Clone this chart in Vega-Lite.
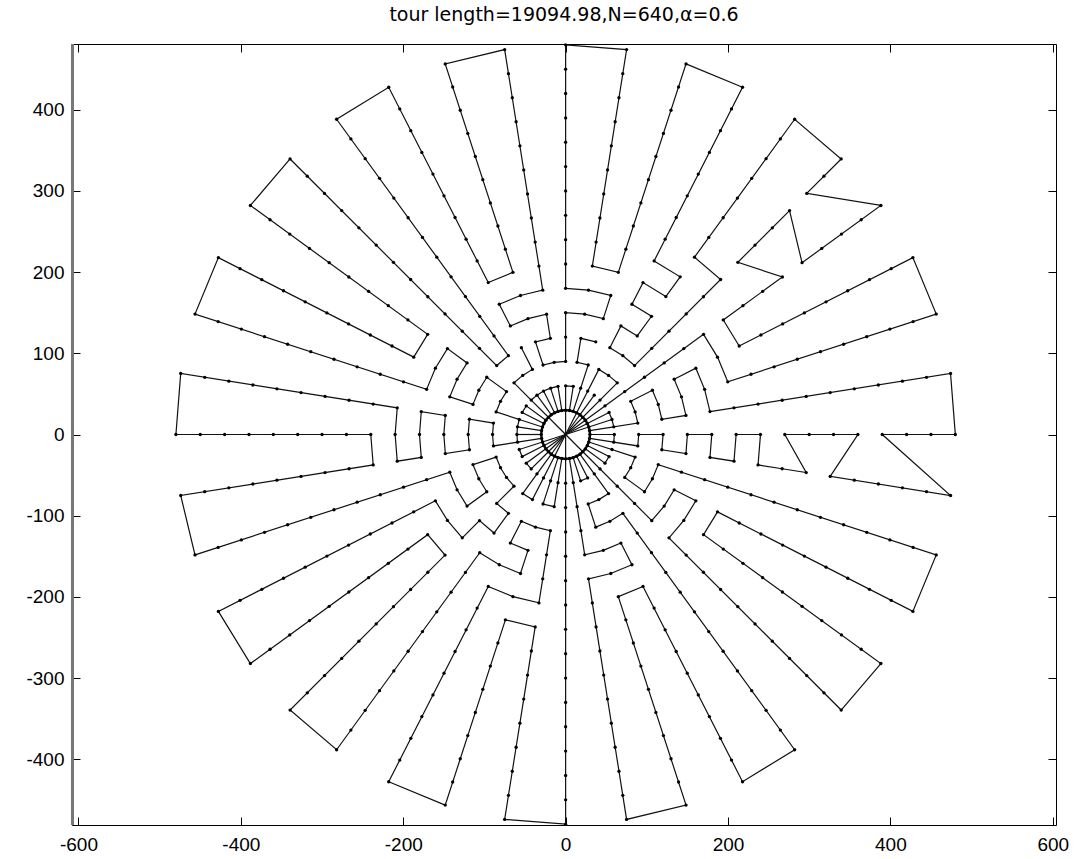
{
"$schema":"https://vega.github.io/schema/vega-lite/v6.json",
"width":984,"height":781,
"autosize":{"type":"none"},
"padding":{"left":72,"top":44,"right":19,"bottom":34},
"config":{"view":{"stroke":"black","strokeWidth":1},"font":"Liberation Sans"},
"title":{"text":"tour length=19094.98,N=640,α=0.6","fontSize":19,"fontWeight":"normal","font":"DejaVu Sans","color":"black","offset":17},
"datasets":{
"pts":[
{"id":1,"x":30,"y":0},{"id":2,"x":60,"y":0},{"id":3,"x":90,"y":0},{"id":4,"x":120,"y":0},{"id":5,"x":150,"y":0},{"id":6,"x":180,"y":0},{"id":7,"x":210,"y":0},{"id":8,"x":240,"y":0},{"id":9,"x":270,"y":0},{"id":10,"x":300,"y":0},{"id":11,"x":330,"y":0},{"id":12,"x":360,"y":0},{"id":13,"x":390,"y":0},{"id":14,"x":420,"y":0},{"id":15,"x":450,"y":0},{"id":16,"x":480,"y":0},
{"id":901,"x":29.6,"y":4.7},{"id":902,"x":59.3,"y":9.4},{"id":903,"x":88.9,"y":14.1},{"id":904,"x":118.5,"y":18.8},{"id":905,"x":148.2,"y":23.5},{"id":906,"x":177.8,"y":28.2},{"id":907,"x":207.4,"y":32.9},{"id":908,"x":237,"y":37.5},{"id":909,"x":266.7,"y":42.2},{"id":910,"x":296.3,"y":46.9},{"id":911,"x":325.9,"y":51.6},{"id":912,"x":355.6,"y":56.3},{"id":913,"x":385.2,"y":61},{"id":914,"x":414.8,"y":65.7},{"id":915,"x":444.5,"y":70.4},{"id":916,"x":474.1,"y":75.1},
{"id":1801,"x":28.5,"y":9.3},{"id":1802,"x":57.1,"y":18.5},{"id":1803,"x":85.6,"y":27.8},{"id":1804,"x":114.1,"y":37.1},{"id":1805,"x":142.7,"y":46.4},{"id":1806,"x":171.2,"y":55.6},{"id":1807,"x":199.7,"y":64.9},{"id":1808,"x":228.3,"y":74.2},{"id":1809,"x":256.8,"y":83.4},{"id":1810,"x":285.3,"y":92.7},{"id":1811,"x":313.9,"y":102},{"id":1812,"x":342.4,"y":111.2},{"id":1813,"x":370.9,"y":120.5},{"id":1814,"x":399.4,"y":129.8},{"id":1815,"x":428,"y":139.1},{"id":1816,"x":456.5,"y":148.3},
{"id":2701,"x":26.7,"y":13.6},{"id":2702,"x":53.5,"y":27.2},{"id":2703,"x":80.2,"y":40.9},{"id":2704,"x":106.9,"y":54.5},{"id":2705,"x":133.7,"y":68.1},{"id":2706,"x":160.4,"y":81.7},{"id":2707,"x":187.1,"y":95.3},{"id":2708,"x":213.8,"y":109},{"id":2709,"x":240.6,"y":122.6},{"id":2710,"x":267.3,"y":136.2},{"id":2711,"x":294,"y":149.8},{"id":2712,"x":320.8,"y":163.4},{"id":2713,"x":347.5,"y":177.1},{"id":2714,"x":374.2,"y":190.7},{"id":2715,"x":401,"y":204.3},{"id":2716,"x":427.7,"y":217.9},
{"id":3601,"x":24.3,"y":17.6},{"id":3602,"x":48.5,"y":35.3},{"id":3603,"x":72.8,"y":52.9},{"id":3604,"x":97.1,"y":70.5},{"id":3605,"x":121.4,"y":88.2},{"id":3606,"x":145.6,"y":105.8},{"id":3607,"x":169.9,"y":123.4},{"id":3608,"x":194.2,"y":141.1},{"id":3609,"x":218.4,"y":158.7},{"id":3610,"x":242.7,"y":176.3},{"id":3611,"x":267,"y":194},{"id":3612,"x":291.2,"y":211.6},{"id":3613,"x":315.5,"y":229.2},{"id":3614,"x":339.8,"y":246.9},{"id":3615,"x":364.1,"y":264.5},{"id":3616,"x":388.3,"y":282.1},
{"id":4501,"x":21.2,"y":21.2},{"id":4502,"x":42.4,"y":42.4},{"id":4503,"x":63.6,"y":63.6},{"id":4504,"x":84.9,"y":84.9},{"id":4505,"x":106.1,"y":106.1},{"id":4506,"x":127.3,"y":127.3},{"id":4507,"x":148.5,"y":148.5},{"id":4508,"x":169.7,"y":169.7},{"id":4509,"x":190.9,"y":190.9},{"id":4510,"x":212.1,"y":212.1},{"id":4511,"x":233.3,"y":233.3},{"id":4512,"x":254.6,"y":254.6},{"id":4513,"x":275.8,"y":275.8},{"id":4514,"x":297,"y":297},{"id":4515,"x":318.2,"y":318.2},{"id":4516,"x":339.4,"y":339.4},
{"id":5401,"x":17.6,"y":24.3},{"id":5402,"x":35.3,"y":48.5},{"id":5403,"x":52.9,"y":72.8},{"id":5404,"x":70.5,"y":97.1},{"id":5405,"x":88.2,"y":121.4},{"id":5406,"x":105.8,"y":145.6},{"id":5407,"x":123.4,"y":169.9},{"id":5408,"x":141.1,"y":194.2},{"id":5409,"x":158.7,"y":218.4},{"id":5410,"x":176.3,"y":242.7},{"id":5411,"x":194,"y":267},{"id":5412,"x":211.6,"y":291.2},{"id":5413,"x":229.2,"y":315.5},{"id":5414,"x":246.9,"y":339.8},{"id":5415,"x":264.5,"y":364.1},{"id":5416,"x":282.1,"y":388.3},
{"id":6301,"x":13.6,"y":26.7},{"id":6302,"x":27.2,"y":53.5},{"id":6303,"x":40.9,"y":80.2},{"id":6304,"x":54.5,"y":106.9},{"id":6305,"x":68.1,"y":133.7},{"id":6306,"x":81.7,"y":160.4},{"id":6307,"x":95.3,"y":187.1},{"id":6308,"x":109,"y":213.8},{"id":6309,"x":122.6,"y":240.6},{"id":6310,"x":136.2,"y":267.3},{"id":6311,"x":149.8,"y":294},{"id":6312,"x":163.4,"y":320.8},{"id":6313,"x":177.1,"y":347.5},{"id":6314,"x":190.7,"y":374.2},{"id":6315,"x":204.3,"y":401},{"id":6316,"x":217.9,"y":427.7},
{"id":7201,"x":9.3,"y":28.5},{"id":7202,"x":18.5,"y":57.1},{"id":7203,"x":27.8,"y":85.6},{"id":7204,"x":37.1,"y":114.1},{"id":7205,"x":46.4,"y":142.7},{"id":7206,"x":55.6,"y":171.2},{"id":7207,"x":64.9,"y":199.7},{"id":7208,"x":74.2,"y":228.3},{"id":7209,"x":83.4,"y":256.8},{"id":7210,"x":92.7,"y":285.3},{"id":7211,"x":102,"y":313.9},{"id":7212,"x":111.2,"y":342.4},{"id":7213,"x":120.5,"y":370.9},{"id":7214,"x":129.8,"y":399.4},{"id":7215,"x":139.1,"y":428},{"id":7216,"x":148.3,"y":456.5},
{"id":8101,"x":4.7,"y":29.6},{"id":8102,"x":9.4,"y":59.3},{"id":8103,"x":14.1,"y":88.9},{"id":8104,"x":18.8,"y":118.5},{"id":8105,"x":23.5,"y":148.2},{"id":8106,"x":28.2,"y":177.8},{"id":8107,"x":32.9,"y":207.4},{"id":8108,"x":37.5,"y":237},{"id":8109,"x":42.2,"y":266.7},{"id":8110,"x":46.9,"y":296.3},{"id":8111,"x":51.6,"y":325.9},{"id":8112,"x":56.3,"y":355.6},{"id":8113,"x":61,"y":385.2},{"id":8114,"x":65.7,"y":414.8},{"id":8115,"x":70.4,"y":444.5},{"id":8116,"x":75.1,"y":474.1},
{"id":9001,"x":0,"y":30},{"id":9002,"x":0,"y":60},{"id":9003,"x":0,"y":90},{"id":9004,"x":0,"y":120},{"id":9005,"x":0,"y":150},{"id":9006,"x":0,"y":180},{"id":9007,"x":0,"y":210},{"id":9008,"x":0,"y":240},{"id":9009,"x":0,"y":270},{"id":9010,"x":0,"y":300},{"id":9011,"x":0,"y":330},{"id":9012,"x":0,"y":360},{"id":9013,"x":0,"y":390},{"id":9014,"x":0,"y":420},{"id":9015,"x":0,"y":450},{"id":9016,"x":0,"y":480},
{"id":9901,"x":-4.7,"y":29.6},{"id":9902,"x":-9.4,"y":59.3},{"id":9903,"x":-14.1,"y":88.9},{"id":9904,"x":-18.8,"y":118.5},{"id":9905,"x":-23.5,"y":148.2},{"id":9906,"x":-28.2,"y":177.8},{"id":9907,"x":-32.9,"y":207.4},{"id":9908,"x":-37.5,"y":237},{"id":9909,"x":-42.2,"y":266.7},{"id":9910,"x":-46.9,"y":296.3},{"id":9911,"x":-51.6,"y":325.9},{"id":9912,"x":-56.3,"y":355.6},{"id":9913,"x":-61,"y":385.2},{"id":9914,"x":-65.7,"y":414.8},{"id":9915,"x":-70.4,"y":444.5},{"id":9916,"x":-75.1,"y":474.1},
{"id":10801,"x":-9.3,"y":28.5},{"id":10802,"x":-18.5,"y":57.1},{"id":10803,"x":-27.8,"y":85.6},{"id":10804,"x":-37.1,"y":114.1},{"id":10805,"x":-46.4,"y":142.7},{"id":10806,"x":-55.6,"y":171.2},{"id":10807,"x":-64.9,"y":199.7},{"id":10808,"x":-74.2,"y":228.3},{"id":10809,"x":-83.4,"y":256.8},{"id":10810,"x":-92.7,"y":285.3},{"id":10811,"x":-102,"y":313.9},{"id":10812,"x":-111.2,"y":342.4},{"id":10813,"x":-120.5,"y":370.9},{"id":10814,"x":-129.8,"y":399.4},{"id":10815,"x":-139.1,"y":428},{"id":10816,"x":-148.3,"y":456.5},
{"id":11701,"x":-13.6,"y":26.7},{"id":11702,"x":-27.2,"y":53.5},{"id":11703,"x":-40.9,"y":80.2},{"id":11704,"x":-54.5,"y":106.9},{"id":11705,"x":-68.1,"y":133.7},{"id":11706,"x":-81.7,"y":160.4},{"id":11707,"x":-95.3,"y":187.1},{"id":11708,"x":-109,"y":213.8},{"id":11709,"x":-122.6,"y":240.6},{"id":11710,"x":-136.2,"y":267.3},{"id":11711,"x":-149.8,"y":294},{"id":11712,"x":-163.4,"y":320.8},{"id":11713,"x":-177.1,"y":347.5},{"id":11714,"x":-190.7,"y":374.2},{"id":11715,"x":-204.3,"y":401},{"id":11716,"x":-217.9,"y":427.7},
{"id":12601,"x":-17.6,"y":24.3},{"id":12602,"x":-35.3,"y":48.5},{"id":12603,"x":-52.9,"y":72.8},{"id":12604,"x":-70.5,"y":97.1},{"id":12605,"x":-88.2,"y":121.4},{"id":12606,"x":-105.8,"y":145.6},{"id":12607,"x":-123.4,"y":169.9},{"id":12608,"x":-141.1,"y":194.2},{"id":12609,"x":-158.7,"y":218.4},{"id":12610,"x":-176.3,"y":242.7},{"id":12611,"x":-194,"y":267},{"id":12612,"x":-211.6,"y":291.2},{"id":12613,"x":-229.2,"y":315.5},{"id":12614,"x":-246.9,"y":339.8},{"id":12615,"x":-264.5,"y":364.1},{"id":12616,"x":-282.1,"y":388.3},
{"id":13501,"x":-21.2,"y":21.2},{"id":13502,"x":-42.4,"y":42.4},{"id":13503,"x":-63.6,"y":63.6},{"id":13504,"x":-84.9,"y":84.9},{"id":13505,"x":-106.1,"y":106.1},{"id":13506,"x":-127.3,"y":127.3},{"id":13507,"x":-148.5,"y":148.5},{"id":13508,"x":-169.7,"y":169.7},{"id":13509,"x":-190.9,"y":190.9},{"id":13510,"x":-212.1,"y":212.1},{"id":13511,"x":-233.3,"y":233.3},{"id":13512,"x":-254.6,"y":254.6},{"id":13513,"x":-275.8,"y":275.8},{"id":13514,"x":-297,"y":297},{"id":13515,"x":-318.2,"y":318.2},{"id":13516,"x":-339.4,"y":339.4},
{"id":14401,"x":-24.3,"y":17.6},{"id":14402,"x":-48.5,"y":35.3},{"id":14403,"x":-72.8,"y":52.9},{"id":14404,"x":-97.1,"y":70.5},{"id":14405,"x":-121.4,"y":88.2},{"id":14406,"x":-145.6,"y":105.8},{"id":14407,"x":-169.9,"y":123.4},{"id":14408,"x":-194.2,"y":141.1},{"id":14409,"x":-218.4,"y":158.7},{"id":14410,"x":-242.7,"y":176.3},{"id":14411,"x":-267,"y":194},{"id":14412,"x":-291.2,"y":211.6},{"id":14413,"x":-315.5,"y":229.2},{"id":14414,"x":-339.8,"y":246.9},{"id":14415,"x":-364.1,"y":264.5},{"id":14416,"x":-388.3,"y":282.1},
{"id":15301,"x":-26.7,"y":13.6},{"id":15302,"x":-53.5,"y":27.2},{"id":15303,"x":-80.2,"y":40.9},{"id":15304,"x":-106.9,"y":54.5},{"id":15305,"x":-133.7,"y":68.1},{"id":15306,"x":-160.4,"y":81.7},{"id":15307,"x":-187.1,"y":95.3},{"id":15308,"x":-213.8,"y":109},{"id":15309,"x":-240.6,"y":122.6},{"id":15310,"x":-267.3,"y":136.2},{"id":15311,"x":-294,"y":149.8},{"id":15312,"x":-320.8,"y":163.4},{"id":15313,"x":-347.5,"y":177.1},{"id":15314,"x":-374.2,"y":190.7},{"id":15315,"x":-401,"y":204.3},{"id":15316,"x":-427.7,"y":217.9},
{"id":16201,"x":-28.5,"y":9.3},{"id":16202,"x":-57.1,"y":18.5},{"id":16203,"x":-85.6,"y":27.8},{"id":16204,"x":-114.1,"y":37.1},{"id":16205,"x":-142.7,"y":46.4},{"id":16206,"x":-171.2,"y":55.6},{"id":16207,"x":-199.7,"y":64.9},{"id":16208,"x":-228.3,"y":74.2},{"id":16209,"x":-256.8,"y":83.4},{"id":16210,"x":-285.3,"y":92.7},{"id":16211,"x":-313.9,"y":102},{"id":16212,"x":-342.4,"y":111.2},{"id":16213,"x":-370.9,"y":120.5},{"id":16214,"x":-399.4,"y":129.8},{"id":16215,"x":-428,"y":139.1},{"id":16216,"x":-456.5,"y":148.3},
{"id":17101,"x":-29.6,"y":4.7},{"id":17102,"x":-59.3,"y":9.4},{"id":17103,"x":-88.9,"y":14.1},{"id":17104,"x":-118.5,"y":18.8},{"id":17105,"x":-148.2,"y":23.5},{"id":17106,"x":-177.8,"y":28.2},{"id":17107,"x":-207.4,"y":32.9},{"id":17108,"x":-237,"y":37.5},{"id":17109,"x":-266.7,"y":42.2},{"id":17110,"x":-296.3,"y":46.9},{"id":17111,"x":-325.9,"y":51.6},{"id":17112,"x":-355.6,"y":56.3},{"id":17113,"x":-385.2,"y":61},{"id":17114,"x":-414.8,"y":65.7},{"id":17115,"x":-444.5,"y":70.4},{"id":17116,"x":-474.1,"y":75.1},
{"id":18001,"x":-30,"y":0},{"id":18002,"x":-60,"y":0},{"id":18003,"x":-90,"y":0},{"id":18004,"x":-120,"y":0},{"id":18005,"x":-150,"y":0},{"id":18006,"x":-180,"y":0},{"id":18007,"x":-210,"y":0},{"id":18008,"x":-240,"y":0},{"id":18009,"x":-270,"y":0},{"id":18010,"x":-300,"y":0},{"id":18011,"x":-330,"y":0},{"id":18012,"x":-360,"y":0},{"id":18013,"x":-390,"y":0},{"id":18014,"x":-420,"y":0},{"id":18015,"x":-450,"y":0},{"id":18016,"x":-480,"y":0},
{"id":18901,"x":-29.6,"y":-4.7},{"id":18902,"x":-59.3,"y":-9.4},{"id":18903,"x":-88.9,"y":-14.1},{"id":18904,"x":-118.5,"y":-18.8},{"id":18905,"x":-148.2,"y":-23.5},{"id":18906,"x":-177.8,"y":-28.2},{"id":18907,"x":-207.4,"y":-32.9},{"id":18908,"x":-237,"y":-37.5},{"id":18909,"x":-266.7,"y":-42.2},{"id":18910,"x":-296.3,"y":-46.9},{"id":18911,"x":-325.9,"y":-51.6},{"id":18912,"x":-355.6,"y":-56.3},{"id":18913,"x":-385.2,"y":-61},{"id":18914,"x":-414.8,"y":-65.7},{"id":18915,"x":-444.5,"y":-70.4},{"id":18916,"x":-474.1,"y":-75.1},
{"id":19801,"x":-28.5,"y":-9.3},{"id":19802,"x":-57.1,"y":-18.5},{"id":19803,"x":-85.6,"y":-27.8},{"id":19804,"x":-114.1,"y":-37.1},{"id":19805,"x":-142.7,"y":-46.4},{"id":19806,"x":-171.2,"y":-55.6},{"id":19807,"x":-199.7,"y":-64.9},{"id":19808,"x":-228.3,"y":-74.2},{"id":19809,"x":-256.8,"y":-83.4},{"id":19810,"x":-285.3,"y":-92.7},{"id":19811,"x":-313.9,"y":-102},{"id":19812,"x":-342.4,"y":-111.2},{"id":19813,"x":-370.9,"y":-120.5},{"id":19814,"x":-399.4,"y":-129.8},{"id":19815,"x":-428,"y":-139.1},{"id":19816,"x":-456.5,"y":-148.3},
{"id":20701,"x":-26.7,"y":-13.6},{"id":20702,"x":-53.5,"y":-27.2},{"id":20703,"x":-80.2,"y":-40.9},{"id":20704,"x":-106.9,"y":-54.5},{"id":20705,"x":-133.7,"y":-68.1},{"id":20706,"x":-160.4,"y":-81.7},{"id":20707,"x":-187.1,"y":-95.3},{"id":20708,"x":-213.8,"y":-109},{"id":20709,"x":-240.6,"y":-122.6},{"id":20710,"x":-267.3,"y":-136.2},{"id":20711,"x":-294,"y":-149.8},{"id":20712,"x":-320.8,"y":-163.4},{"id":20713,"x":-347.5,"y":-177.1},{"id":20714,"x":-374.2,"y":-190.7},{"id":20715,"x":-401,"y":-204.3},{"id":20716,"x":-427.7,"y":-217.9},
{"id":21601,"x":-24.3,"y":-17.6},{"id":21602,"x":-48.5,"y":-35.3},{"id":21603,"x":-72.8,"y":-52.9},{"id":21604,"x":-97.1,"y":-70.5},{"id":21605,"x":-121.4,"y":-88.2},{"id":21606,"x":-145.6,"y":-105.8},{"id":21607,"x":-169.9,"y":-123.4},{"id":21608,"x":-194.2,"y":-141.1},{"id":21609,"x":-218.4,"y":-158.7},{"id":21610,"x":-242.7,"y":-176.3},{"id":21611,"x":-267,"y":-194},{"id":21612,"x":-291.2,"y":-211.6},{"id":21613,"x":-315.5,"y":-229.2},{"id":21614,"x":-339.8,"y":-246.9},{"id":21615,"x":-364.1,"y":-264.5},{"id":21616,"x":-388.3,"y":-282.1},
{"id":22501,"x":-21.2,"y":-21.2},{"id":22502,"x":-42.4,"y":-42.4},{"id":22503,"x":-63.6,"y":-63.6},{"id":22504,"x":-84.9,"y":-84.9},{"id":22505,"x":-106.1,"y":-106.1},{"id":22506,"x":-127.3,"y":-127.3},{"id":22507,"x":-148.5,"y":-148.5},{"id":22508,"x":-169.7,"y":-169.7},{"id":22509,"x":-190.9,"y":-190.9},{"id":22510,"x":-212.1,"y":-212.1},{"id":22511,"x":-233.3,"y":-233.3},{"id":22512,"x":-254.6,"y":-254.6},{"id":22513,"x":-275.8,"y":-275.8},{"id":22514,"x":-297,"y":-297},{"id":22515,"x":-318.2,"y":-318.2},{"id":22516,"x":-339.4,"y":-339.4},
{"id":23401,"x":-17.6,"y":-24.3},{"id":23402,"x":-35.3,"y":-48.5},{"id":23403,"x":-52.9,"y":-72.8},{"id":23404,"x":-70.5,"y":-97.1},{"id":23405,"x":-88.2,"y":-121.4},{"id":23406,"x":-105.8,"y":-145.6},{"id":23407,"x":-123.4,"y":-169.9},{"id":23408,"x":-141.1,"y":-194.2},{"id":23409,"x":-158.7,"y":-218.4},{"id":23410,"x":-176.3,"y":-242.7},{"id":23411,"x":-194,"y":-267},{"id":23412,"x":-211.6,"y":-291.2},{"id":23413,"x":-229.2,"y":-315.5},{"id":23414,"x":-246.9,"y":-339.8},{"id":23415,"x":-264.5,"y":-364.1},{"id":23416,"x":-282.1,"y":-388.3},
{"id":24301,"x":-13.6,"y":-26.7},{"id":24302,"x":-27.2,"y":-53.5},{"id":24303,"x":-40.9,"y":-80.2},{"id":24304,"x":-54.5,"y":-106.9},{"id":24305,"x":-68.1,"y":-133.7},{"id":24306,"x":-81.7,"y":-160.4},{"id":24307,"x":-95.3,"y":-187.1},{"id":24308,"x":-109,"y":-213.8},{"id":24309,"x":-122.6,"y":-240.6},{"id":24310,"x":-136.2,"y":-267.3},{"id":24311,"x":-149.8,"y":-294},{"id":24312,"x":-163.4,"y":-320.8},{"id":24313,"x":-177.1,"y":-347.5},{"id":24314,"x":-190.7,"y":-374.2},{"id":24315,"x":-204.3,"y":-401},{"id":24316,"x":-217.9,"y":-427.7},
{"id":25201,"x":-9.3,"y":-28.5},{"id":25202,"x":-18.5,"y":-57.1},{"id":25203,"x":-27.8,"y":-85.6},{"id":25204,"x":-37.1,"y":-114.1},{"id":25205,"x":-46.4,"y":-142.7},{"id":25206,"x":-55.6,"y":-171.2},{"id":25207,"x":-64.9,"y":-199.7},{"id":25208,"x":-74.2,"y":-228.3},{"id":25209,"x":-83.4,"y":-256.8},{"id":25210,"x":-92.7,"y":-285.3},{"id":25211,"x":-102,"y":-313.9},{"id":25212,"x":-111.2,"y":-342.4},{"id":25213,"x":-120.5,"y":-370.9},{"id":25214,"x":-129.8,"y":-399.4},{"id":25215,"x":-139.1,"y":-428},{"id":25216,"x":-148.3,"y":-456.5},
{"id":26101,"x":-4.7,"y":-29.6},{"id":26102,"x":-9.4,"y":-59.3},{"id":26103,"x":-14.1,"y":-88.9},{"id":26104,"x":-18.8,"y":-118.5},{"id":26105,"x":-23.5,"y":-148.2},{"id":26106,"x":-28.2,"y":-177.8},{"id":26107,"x":-32.9,"y":-207.4},{"id":26108,"x":-37.5,"y":-237},{"id":26109,"x":-42.2,"y":-266.7},{"id":26110,"x":-46.9,"y":-296.3},{"id":26111,"x":-51.6,"y":-325.9},{"id":26112,"x":-56.3,"y":-355.6},{"id":26113,"x":-61,"y":-385.2},{"id":26114,"x":-65.7,"y":-414.8},{"id":26115,"x":-70.4,"y":-444.5},{"id":26116,"x":-75.1,"y":-474.1},
{"id":27001,"x":0,"y":-30},{"id":27002,"x":0,"y":-60},{"id":27003,"x":0,"y":-90},{"id":27004,"x":0,"y":-120},{"id":27005,"x":0,"y":-150},{"id":27006,"x":0,"y":-180},{"id":27007,"x":0,"y":-210},{"id":27008,"x":0,"y":-240},{"id":27009,"x":0,"y":-270},{"id":27010,"x":0,"y":-300},{"id":27011,"x":0,"y":-330},{"id":27012,"x":0,"y":-360},{"id":27013,"x":0,"y":-390},{"id":27014,"x":0,"y":-420},{"id":27015,"x":0,"y":-450},{"id":27016,"x":0,"y":-480},
{"id":27901,"x":4.7,"y":-29.6},{"id":27902,"x":9.4,"y":-59.3},{"id":27903,"x":14.1,"y":-88.9},{"id":27904,"x":18.8,"y":-118.5},{"id":27905,"x":23.5,"y":-148.2},{"id":27906,"x":28.2,"y":-177.8},{"id":27907,"x":32.9,"y":-207.4},{"id":27908,"x":37.5,"y":-237},{"id":27909,"x":42.2,"y":-266.7},{"id":27910,"x":46.9,"y":-296.3},{"id":27911,"x":51.6,"y":-325.9},{"id":27912,"x":56.3,"y":-355.6},{"id":27913,"x":61,"y":-385.2},{"id":27914,"x":65.7,"y":-414.8},{"id":27915,"x":70.4,"y":-444.5},{"id":27916,"x":75.1,"y":-474.1},
{"id":28801,"x":9.3,"y":-28.5},{"id":28802,"x":18.5,"y":-57.1},{"id":28803,"x":27.8,"y":-85.6},{"id":28804,"x":37.1,"y":-114.1},{"id":28805,"x":46.4,"y":-142.7},{"id":28806,"x":55.6,"y":-171.2},{"id":28807,"x":64.9,"y":-199.7},{"id":28808,"x":74.2,"y":-228.3},{"id":28809,"x":83.4,"y":-256.8},{"id":28810,"x":92.7,"y":-285.3},{"id":28811,"x":102,"y":-313.9},{"id":28812,"x":111.2,"y":-342.4},{"id":28813,"x":120.5,"y":-370.9},{"id":28814,"x":129.8,"y":-399.4},{"id":28815,"x":139.1,"y":-428},{"id":28816,"x":148.3,"y":-456.5},
{"id":29701,"x":13.6,"y":-26.7},{"id":29702,"x":27.2,"y":-53.5},{"id":29703,"x":40.9,"y":-80.2},{"id":29704,"x":54.5,"y":-106.9},{"id":29705,"x":68.1,"y":-133.7},{"id":29706,"x":81.7,"y":-160.4},{"id":29707,"x":95.3,"y":-187.1},{"id":29708,"x":109,"y":-213.8},{"id":29709,"x":122.6,"y":-240.6},{"id":29710,"x":136.2,"y":-267.3},{"id":29711,"x":149.8,"y":-294},{"id":29712,"x":163.4,"y":-320.8},{"id":29713,"x":177.1,"y":-347.5},{"id":29714,"x":190.7,"y":-374.2},{"id":29715,"x":204.3,"y":-401},{"id":29716,"x":217.9,"y":-427.7},
{"id":30601,"x":17.6,"y":-24.3},{"id":30602,"x":35.3,"y":-48.5},{"id":30603,"x":52.9,"y":-72.8},{"id":30604,"x":70.5,"y":-97.1},{"id":30605,"x":88.2,"y":-121.4},{"id":30606,"x":105.8,"y":-145.6},{"id":30607,"x":123.4,"y":-169.9},{"id":30608,"x":141.1,"y":-194.2},{"id":30609,"x":158.7,"y":-218.4},{"id":30610,"x":176.3,"y":-242.7},{"id":30611,"x":194,"y":-267},{"id":30612,"x":211.6,"y":-291.2},{"id":30613,"x":229.2,"y":-315.5},{"id":30614,"x":246.9,"y":-339.8},{"id":30615,"x":264.5,"y":-364.1},{"id":30616,"x":282.1,"y":-388.3},
{"id":31501,"x":21.2,"y":-21.2},{"id":31502,"x":42.4,"y":-42.4},{"id":31503,"x":63.6,"y":-63.6},{"id":31504,"x":84.9,"y":-84.9},{"id":31505,"x":106.1,"y":-106.1},{"id":31506,"x":127.3,"y":-127.3},{"id":31507,"x":148.5,"y":-148.5},{"id":31508,"x":169.7,"y":-169.7},{"id":31509,"x":190.9,"y":-190.9},{"id":31510,"x":212.1,"y":-212.1},{"id":31511,"x":233.3,"y":-233.3},{"id":31512,"x":254.6,"y":-254.6},{"id":31513,"x":275.8,"y":-275.8},{"id":31514,"x":297,"y":-297},{"id":31515,"x":318.2,"y":-318.2},{"id":31516,"x":339.4,"y":-339.4},
{"id":32401,"x":24.3,"y":-17.6},{"id":32402,"x":48.5,"y":-35.3},{"id":32403,"x":72.8,"y":-52.9},{"id":32404,"x":97.1,"y":-70.5},{"id":32405,"x":121.4,"y":-88.2},{"id":32406,"x":145.6,"y":-105.8},{"id":32407,"x":169.9,"y":-123.4},{"id":32408,"x":194.2,"y":-141.1},{"id":32409,"x":218.4,"y":-158.7},{"id":32410,"x":242.7,"y":-176.3},{"id":32411,"x":267,"y":-194},{"id":32412,"x":291.2,"y":-211.6},{"id":32413,"x":315.5,"y":-229.2},{"id":32414,"x":339.8,"y":-246.9},{"id":32415,"x":364.1,"y":-264.5},{"id":32416,"x":388.3,"y":-282.1},
{"id":33301,"x":26.7,"y":-13.6},{"id":33302,"x":53.5,"y":-27.2},{"id":33303,"x":80.2,"y":-40.9},{"id":33304,"x":106.9,"y":-54.5},{"id":33305,"x":133.7,"y":-68.1},{"id":33306,"x":160.4,"y":-81.7},{"id":33307,"x":187.1,"y":-95.3},{"id":33308,"x":213.8,"y":-109},{"id":33309,"x":240.6,"y":-122.6},{"id":33310,"x":267.3,"y":-136.2},{"id":33311,"x":294,"y":-149.8},{"id":33312,"x":320.8,"y":-163.4},{"id":33313,"x":347.5,"y":-177.1},{"id":33314,"x":374.2,"y":-190.7},{"id":33315,"x":401,"y":-204.3},{"id":33316,"x":427.7,"y":-217.9},
{"id":34201,"x":28.5,"y":-9.3},{"id":34202,"x":57.1,"y":-18.5},{"id":34203,"x":85.6,"y":-27.8},{"id":34204,"x":114.1,"y":-37.1},{"id":34205,"x":142.7,"y":-46.4},{"id":34206,"x":171.2,"y":-55.6},{"id":34207,"x":199.7,"y":-64.9},{"id":34208,"x":228.3,"y":-74.2},{"id":34209,"x":256.8,"y":-83.4},{"id":34210,"x":285.3,"y":-92.7},{"id":34211,"x":313.9,"y":-102},{"id":34212,"x":342.4,"y":-111.2},{"id":34213,"x":370.9,"y":-120.5},{"id":34214,"x":399.4,"y":-129.8},{"id":34215,"x":428,"y":-139.1},{"id":34216,"x":456.5,"y":-148.3},
{"id":35101,"x":29.6,"y":-4.7},{"id":35102,"x":59.3,"y":-9.4},{"id":35103,"x":88.9,"y":-14.1},{"id":35104,"x":118.5,"y":-18.8},{"id":35105,"x":148.2,"y":-23.5},{"id":35106,"x":177.8,"y":-28.2},{"id":35107,"x":207.4,"y":-32.9},{"id":35108,"x":237,"y":-37.5},{"id":35109,"x":266.7,"y":-42.2},{"id":35110,"x":296.3,"y":-46.9},{"id":35111,"x":325.9,"y":-51.6},{"id":35112,"x":355.6,"y":-56.3},{"id":35113,"x":385.2,"y":-61},{"id":35114,"x":414.8,"y":-65.7},{"id":35115,"x":444.5,"y":-70.4},{"id":35116,"x":474.1,"y":-75.1}
],
"tour":[
{"g":0,"o":0,"p":1},{"g":0,"o":1,"p":901},{"g":0,"o":2,"p":1801},{"g":0,"o":3,"p":2701},{"g":0,"o":4,"p":3601},{"g":0,"o":5,"p":4501},{"g":0,"o":6,"p":5401},{"g":0,"o":7,"p":6301},{"g":0,"o":8,"p":7201},{"g":0,"o":9,"p":8101},{"g":0,"o":10,"p":9001},{"g":0,"o":11,"p":9901},{"g":0,"o":12,"p":10801},{"g":0,"o":13,"p":11701},{"g":0,"o":14,"p":12601},{"g":0,"o":15,"p":13501},{"g":0,"o":16,"p":14401},{"g":0,"o":17,"p":15301},{"g":0,"o":18,"p":16201},{"g":0,"o":19,"p":17101},{"g":0,"o":20,"p":18001},{"g":0,"o":21,"p":18901},{"g":0,"o":22,"p":19801},{"g":0,"o":23,"p":20701},{"g":0,"o":24,"p":21601},{"g":0,"o":25,"p":22501},{"g":0,"o":26,"p":23401},{"g":0,"o":27,"p":24301},{"g":0,"o":28,"p":25201},{"g":0,"o":29,"p":26101},{"g":0,"o":30,"p":27001},{"g":0,"o":31,"p":27901},{"g":0,"o":32,"p":28801},{"g":0,"o":33,"p":29701},{"g":0,"o":34,"p":30601},{"g":0,"o":35,"p":31501},{"g":0,"o":36,"p":32401},{"g":0,"o":37,"p":33301},{"g":0,"o":38,"p":34201},{"g":0,"o":39,"p":35101},{"g":0,"o":40,"p":1},
{"g":1,"o":0,"p":906},{"g":1,"o":1,"p":916},{"g":1,"o":2,"p":16},{"g":1,"o":3,"p":13},{"g":1,"o":4,"p":35116},{"g":1,"o":5,"p":35111},{"g":1,"o":6,"p":12},{"g":1,"o":7,"p":9},{"g":1,"o":8,"p":35110},{"g":1,"o":9,"p":35109},{"g":1,"o":10,"p":35108},{"g":1,"o":11,"p":8},{"g":1,"o":12,"p":7},{"g":1,"o":13,"p":35107},{"g":1,"o":14,"p":35106},{"g":1,"o":15,"p":6},{"g":1,"o":16,"p":5},{"g":1,"o":17,"p":35105},{"g":1,"o":18,"p":35104},{"g":1,"o":19,"p":4},{"g":1,"o":20,"p":3},{"g":1,"o":21,"p":35103},{"g":1,"o":22,"p":35102},{"g":1,"o":23,"p":2},{"g":1,"o":24,"p":1},
{"g":2,"o":0,"p":3607},{"g":2,"o":1,"p":2707},{"g":2,"o":2,"p":1807},{"g":2,"o":3,"p":1816},{"g":2,"o":4,"p":2716},{"g":2,"o":5,"p":2708},{"g":2,"o":6,"p":3608},{"g":2,"o":7,"p":3611},{"g":2,"o":8,"p":4510},{"g":2,"o":9,"p":4513},{"g":2,"o":10,"p":3612},{"g":2,"o":11,"p":3616},{"g":2,"o":12,"p":4514},{"g":2,"o":13,"p":4516},{"g":2,"o":14,"p":5416},{"g":2,"o":15,"p":5409},{"g":2,"o":16,"p":4509},{"g":2,"o":17,"p":4504},
{"g":3,"o":0,"p":5407},{"g":3,"o":1,"p":5408},{"g":3,"o":2,"p":6308},{"g":3,"o":3,"p":6316},{"g":3,"o":4,"p":7216},{"g":3,"o":5,"p":7207},{"g":3,"o":6,"p":8107},{"g":3,"o":7,"p":8116},{"g":3,"o":8,"p":9016},{"g":3,"o":9,"p":9006},
{"g":4,"o":0,"p":9904},{"g":4,"o":1,"p":9905},{"g":4,"o":2,"p":10805},{"g":4,"o":3,"p":11705},{"g":4,"o":4,"p":11706},{"g":4,"o":5,"p":10806},{"g":4,"o":6,"p":9906},{"g":4,"o":7,"p":9916},{"g":4,"o":8,"p":10816},{"g":4,"o":9,"p":10807},{"g":4,"o":10,"p":11707},{"g":4,"o":11,"p":11716},{"g":4,"o":12,"p":12616},{"g":4,"o":13,"p":12604},{"g":4,"o":14,"p":13504},{"g":4,"o":15,"p":13516},{"g":4,"o":16,"p":14416},{"g":4,"o":17,"p":14407},{"g":4,"o":18,"p":15307},{"g":4,"o":19,"p":15316},{"g":4,"o":20,"p":16216},{"g":4,"o":21,"p":16206},{"g":4,"o":22,"p":15306},{"g":4,"o":23,"p":14406},{"g":4,"o":24,"p":14405},{"g":4,"o":25,"p":15305},{"g":4,"o":26,"p":16205},{"g":4,"o":27,"p":16204},
{"g":5,"o":0,"p":17102},{"g":5,"o":1,"p":18002},{"g":5,"o":2,"p":18902},{"g":5,"o":3,"p":18903},{"g":5,"o":4,"p":18003},{"g":5,"o":5,"p":17103},{"g":5,"o":6,"p":17104},{"g":5,"o":7,"p":18004},{"g":5,"o":8,"p":18904},{"g":5,"o":9,"p":18905},{"g":5,"o":10,"p":18005},{"g":5,"o":11,"p":17105},{"g":5,"o":12,"p":17106},{"g":5,"o":13,"p":18006},{"g":5,"o":14,"p":18906},{"g":5,"o":15,"p":18907},{"g":5,"o":16,"p":18007},{"g":5,"o":17,"p":17107},{"g":5,"o":18,"p":17116},{"g":5,"o":19,"p":18016},{"g":5,"o":20,"p":18008},{"g":5,"o":21,"p":18908},{"g":5,"o":22,"p":18916},{"g":5,"o":23,"p":19816},{"g":5,"o":24,"p":19805},{"g":5,"o":25,"p":20705},{"g":5,"o":26,"p":21605},{"g":5,"o":27,"p":21604},{"g":5,"o":28,"p":20704},{"g":5,"o":29,"p":19804},{"g":5,"o":30,"p":19803},
{"g":6,"o":0,"p":23404},{"g":6,"o":1,"p":23405},{"g":6,"o":2,"p":22505},{"g":6,"o":3,"p":22506},{"g":6,"o":4,"p":21606},{"g":6,"o":5,"p":20706},{"g":6,"o":6,"p":20716},{"g":6,"o":7,"p":21616},{"g":6,"o":8,"p":21607},{"g":6,"o":9,"p":22507},{"g":6,"o":10,"p":22516},{"g":6,"o":11,"p":23416},{"g":6,"o":12,"p":23406},{"g":6,"o":13,"p":24306},{"g":6,"o":14,"p":25206},{"g":6,"o":15,"p":25205},
{"g":7,"o":0,"p":26106},{"g":7,"o":1,"p":26107},{"g":7,"o":2,"p":25207},{"g":7,"o":3,"p":24307},{"g":7,"o":4,"p":24316},{"g":7,"o":5,"p":25216},{"g":7,"o":6,"p":25208},{"g":7,"o":7,"p":26108},{"g":7,"o":8,"p":26116},{"g":7,"o":9,"p":27016},{"g":7,"o":10,"p":27002},
{"g":8,"o":0,"p":27904},{"g":8,"o":1,"p":27905},{"g":8,"o":2,"p":28805},{"g":8,"o":3,"p":29705},{"g":8,"o":4,"p":29706},{"g":8,"o":5,"p":28806},{"g":8,"o":6,"p":27906},{"g":8,"o":7,"p":27916},{"g":8,"o":8,"p":28816},{"g":8,"o":9,"p":28807},{"g":8,"o":10,"p":29707},{"g":8,"o":11,"p":29716},{"g":8,"o":12,"p":30616},{"g":8,"o":13,"p":30605},
{"g":9,"o":0,"p":33305},{"g":9,"o":1,"p":33306},{"g":9,"o":2,"p":32406},{"g":9,"o":3,"p":31506},{"g":9,"o":4,"p":31516},{"g":9,"o":5,"p":32416},{"g":9,"o":6,"p":32407},{"g":9,"o":7,"p":33307},{"g":9,"o":8,"p":33316},{"g":9,"o":9,"p":34216},{"g":9,"o":10,"p":34204},{"g":9,"o":11,"p":33304},{"g":9,"o":12,"p":32404},{"g":9,"o":13,"p":32403},{"g":9,"o":14,"p":33303},{"g":9,"o":15,"p":34203},
{"g":10,"o":0,"p":906},{"g":10,"o":1,"p":1806},{"g":10,"o":2,"p":2706},{"g":10,"o":3,"p":2705},{"g":10,"o":4,"p":1805},{"g":10,"o":5,"p":905},{"g":10,"o":6,"p":904},{"g":10,"o":7,"p":1804},{"g":10,"o":8,"p":2704},{"g":10,"o":9,"p":2703},{"g":10,"o":10,"p":1803},{"g":10,"o":11,"p":903},{"g":10,"o":12,"p":902},{"g":10,"o":13,"p":1802},{"g":10,"o":14,"p":2702},
{"g":11,"o":0,"p":3607},{"g":11,"o":1,"p":3601},
{"g":12,"o":0,"p":5407},{"g":12,"o":1,"p":6307},{"g":12,"o":2,"p":6306},{"g":12,"o":3,"p":5406},{"g":12,"o":4,"p":5405},{"g":12,"o":5,"p":6305},{"g":12,"o":6,"p":6304},{"g":12,"o":7,"p":5404},{"g":12,"o":8,"p":4504},
{"g":13,"o":0,"p":4501},{"g":13,"o":1,"p":4503},{"g":13,"o":2,"p":5403},{"g":13,"o":3,"p":6303},{"g":13,"o":4,"p":6301},
{"g":14,"o":0,"p":5401},{"g":14,"o":1,"p":5402},
{"g":15,"o":0,"p":7204},{"g":15,"o":1,"p":8104},{"g":15,"o":2,"p":8103},{"g":15,"o":3,"p":7203},{"g":15,"o":4,"p":7201},
{"g":16,"o":0,"p":8101},{"g":16,"o":1,"p":8102},{"g":16,"o":2,"p":9002},{"g":16,"o":3,"p":9001},
{"g":17,"o":0,"p":9006},{"g":17,"o":1,"p":8106},{"g":17,"o":2,"p":7206},{"g":17,"o":3,"p":7205},{"g":17,"o":4,"p":8105},{"g":17,"o":5,"p":9005},{"g":17,"o":6,"p":9004},{"g":17,"o":7,"p":9003},{"g":17,"o":8,"p":9903},{"g":17,"o":9,"p":10803},{"g":17,"o":10,"p":10804},{"g":17,"o":11,"p":9904},
{"g":18,"o":0,"p":11704},{"g":18,"o":1,"p":11703},{"g":18,"o":2,"p":12603},{"g":18,"o":3,"p":13503},{"g":18,"o":4,"p":13502},{"g":18,"o":5,"p":12602},{"g":18,"o":6,"p":11702},{"g":18,"o":7,"p":10802},{"g":18,"o":8,"p":9902},{"g":18,"o":9,"p":9901},
{"g":19,"o":0,"p":16204},{"g":19,"o":1,"p":15304},{"g":19,"o":2,"p":14404},{"g":19,"o":3,"p":14403},{"g":19,"o":4,"p":15303},{"g":19,"o":5,"p":16203},{"g":19,"o":6,"p":16202},{"g":19,"o":7,"p":17102},
{"g":20,"o":0,"p":19803},{"g":20,"o":1,"p":20703},{"g":20,"o":2,"p":21603},{"g":20,"o":3,"p":22503},{"g":20,"o":4,"p":22504},{"g":20,"o":5,"p":23404},
{"g":21,"o":0,"p":25205},{"g":21,"o":1,"p":24305},{"g":21,"o":2,"p":24304},{"g":21,"o":3,"p":25204},{"g":21,"o":4,"p":26104},{"g":21,"o":5,"p":26105},{"g":21,"o":6,"p":26106},
{"g":22,"o":0,"p":19801},{"g":22,"o":1,"p":19802},{"g":22,"o":2,"p":20702},{"g":22,"o":3,"p":20701},
{"g":23,"o":0,"p":21601},{"g":23,"o":1,"p":21602},{"g":23,"o":2,"p":22502},{"g":23,"o":3,"p":22501},
{"g":24,"o":0,"p":23401},{"g":24,"o":1,"p":23403},{"g":24,"o":2,"p":24303},{"g":24,"o":3,"p":24301},
{"g":25,"o":0,"p":25201},{"g":25,"o":1,"p":25203},{"g":25,"o":2,"p":26103},{"g":25,"o":3,"p":26101},
{"g":26,"o":0,"p":30605},{"g":26,"o":1,"p":30604},{"g":26,"o":2,"p":29704},{"g":26,"o":3,"p":28804},{"g":26,"o":4,"p":28803},{"g":26,"o":5,"p":29703},{"g":26,"o":6,"p":30603},{"g":26,"o":7,"p":30601},
{"g":27,"o":0,"p":27904},{"g":27,"o":1,"p":27901},
{"g":28,"o":0,"p":33305},{"g":28,"o":1,"p":32405},{"g":28,"o":2,"p":31505},{"g":28,"o":3,"p":31501},
{"g":29,"o":0,"p":34203},{"g":29,"o":1,"p":34201},
{"g":30,"o":0,"p":28801},{"g":30,"o":1,"p":28802},{"g":30,"o":2,"p":29702},{"g":30,"o":3,"p":29701},
{"g":31,"o":0,"p":32401},{"g":31,"o":1,"p":32402},{"g":31,"o":2,"p":33302},{"g":31,"o":3,"p":33301},
{"g":32,"o":0,"p":14401},{"g":32,"o":1,"p":14402},{"g":32,"o":2,"p":15302},{"g":32,"o":3,"p":15301},
{"g":33,"o":0,"p":901},{"g":33,"o":1,"p":902},
{"g":34,"o":0,"p":1801},{"g":34,"o":1,"p":1802},
{"g":35,"o":0,"p":2701},{"g":35,"o":1,"p":2702},
{"g":36,"o":0,"p":10801},{"g":36,"o":1,"p":10802},
{"g":37,"o":0,"p":11701},{"g":37,"o":1,"p":11702},
{"g":38,"o":0,"p":12601},{"g":38,"o":1,"p":12602},
{"g":39,"o":0,"p":13501},{"g":39,"o":1,"p":13502},
{"g":40,"o":0,"p":16201},{"g":40,"o":1,"p":16202},
{"g":41,"o":0,"p":17101},{"g":41,"o":1,"p":17102},
{"g":42,"o":0,"p":18001},{"g":42,"o":1,"p":18002},
{"g":43,"o":0,"p":18901},{"g":43,"o":1,"p":18902},
{"g":44,"o":0,"p":27001},{"g":44,"o":1,"p":27002},
{"g":45,"o":0,"p":35101},{"g":45,"o":1,"p":35102},
{"g":46,"o":0,"p":2701},{"g":46,"o":1,"p":20701},
{"g":47,"o":0,"p":3601},{"g":47,"o":1,"p":21601},
{"g":48,"o":0,"p":4501},{"g":48,"o":1,"p":22501},
{"g":49,"o":0,"p":5401},{"g":49,"o":1,"p":23401},
{"g":50,"o":0,"p":6301},{"g":50,"o":1,"p":24301},
{"g":51,"o":0,"p":1801},{"g":51,"o":1,"p":19801},
{"g":52,"o":0,"p":9001},{"g":52,"o":1,"p":27001},
{"g":53,"o":0,"p":13501},{"g":53,"o":1,"p":31501}
]
},
"layer":[
{"data":{"values":[{}]},
"mark":{"type":"rule","color":"#777","strokeWidth":3},
"encoding":{"x":{"datum":-607.4,"type":"quantitative","axis":null}}},
{"data":{"name":"tour"},
"transform":[{"lookup":"p","from":{"data":{"name":"pts"},"key":"id","fields":["x","y"]}}],
"mark":{"type":"line","color":"#111"},
"encoding":{
"x":{"field":"x","type":"quantitative","scale":{"domain":[-608,604],"nice":false,"zero":false},"axis":{"orient":"bottom","values":[-600,-400,-200,0,200,400,600],"tickSize":-8,"labelPadding":18,"domain":false,"grid":false,"title":null,"labelFontSize":19,"labelFont":"Liberation Sans","labelColor":"black","tickColor":"black","labelFlush":false,"labelOverlap":false,"labelExpr":"replace(datum.label, '−', '-')"}},
"y":{"field":"y","type":"quantitative","scale":{"domain":[-481,481],"nice":false,"zero":false},"axis":{"orient":"left","values":[-400,-300,-200,-100,0,100,200,300,400],"tickSize":-8,"labelPadding":16,"domain":false,"grid":false,"title":null,"labelFontSize":19,"labelFont":"Liberation Sans","labelColor":"black","tickColor":"black","labelOverlap":false,"labelExpr":"replace(datum.label, '−', '-')"}},
"detail":{"field":"g"},
"order":{"field":"o"},
"strokeWidth":{"condition":{"test":"datum.g == 0","value":2.4},"value":1.2}}},
{"data":{"name":"pts"},
"mark":{"type":"circle","color":"black","size":11,"opacity":1},
"encoding":{
"x":{"field":"x","type":"quantitative","axis":{"orient":"top","values":[-600,-400,-200,0,200,400,600],"tickSize":-8,"labels":false,"domain":false,"grid":false,"title":null,"tickColor":"black"}},
"y":{"field":"y","type":"quantitative","axis":{"orient":"right","values":[-400,-300,-200,-100,0,100,200,300,400],"tickSize":-8,"labels":false,"domain":false,"grid":false,"title":null,"tickColor":"black"}}}}
],
"resolve":{"axis":{"x":"independent","y":"independent"}}
}
